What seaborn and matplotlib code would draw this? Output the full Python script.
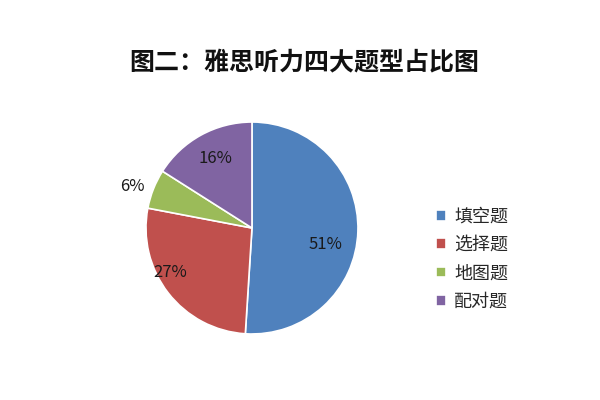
import numpy as np
import matplotlib
matplotlib.use("Agg")
import matplotlib.pyplot as plt
import seaborn as sns

sns.set_theme(style="white")
plt.rcParams['font.family'] = ['Noto Sans CJK SC', 'DejaVu Sans']

title = "图二：雅思听力四大题型占比图"
categories = ["填空题", "选择题", "地图题", "配对题"]
values = [51, 27, 6, 16]
colors = ["#4F81BD", "#C0504D", "#9BBB59", "#8064A2"]

fig = plt.figure(figsize=(6, 4), dpi=100)
fig.patch.set_facecolor("white")
ax = fig.add_axes([0.2433, 0.165, 0.3533, 0.53])

wedges, texts, autotexts = ax.pie(
    values, colors=colors, startangle=90, counterclock=False,
    autopct=lambda p: f"{p:.0f}%", pctdistance=0.75,
    wedgeprops=dict(edgecolor="white", linewidth=1.2),
    textprops=dict(fontsize=12, color="#1a1a1a"),
)
ax.set_aspect("equal")
ax.set_xlim(-1, 1)
ax.set_ylim(-1, 1)

# per-wedge label placement (distance relative to radius, angle offset in degrees)
dists = [0.71, 0.88, 1.19, 0.74]
offsets = [-10.5, -9.6, 2.6, -0.8]
for w, t, d, o in zip(wedges, autotexts, dists, offsets):
    mid = np.deg2rad((w.theta1 + w.theta2) / 2 + o)
    t.set_position((d * np.cos(mid), d * np.sin(mid)))
    t.set_ha("center"); t.set_va("center")

fig.text(0.507, 0.845, title, ha="center", va="center",
         fontsize=18, fontweight="bold", color="#111111")

fig.legend(wedges, categories, loc="center left",
           bbox_to_anchor=(0.70, 0.352), frameon=False,
           fontsize=13, handlelength=0.55, handleheight=0.55,
           handletextpad=0.45, labelspacing=0.58)

fig.savefig("out.png", dpi=100)
